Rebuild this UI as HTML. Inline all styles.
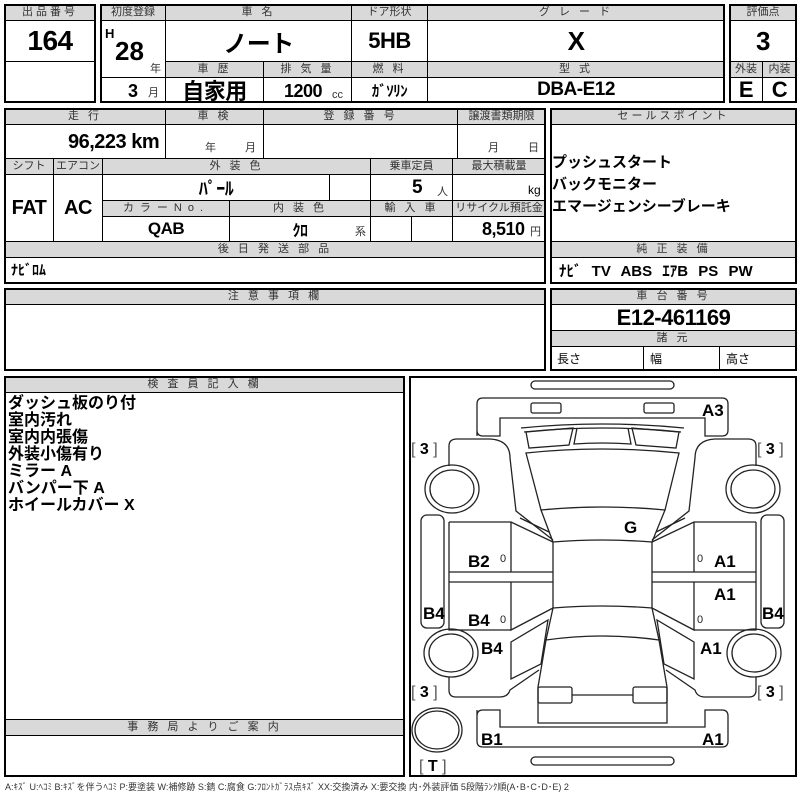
<!DOCTYPE html>
<html><head><meta charset="utf-8">
<style>
body{margin:0;background:#fff;width:800px;height:800px;position:relative;overflow:hidden;font-family:"Liberation Sans","Noto Sans CJK JP",sans-serif;color:#000}
.c{position:absolute;box-sizing:border-box;border:1px solid #000;display:flex;align-items:center;justify-content:center;white-space:nowrap}
.h{background:#d9d9d9;font-size:11px;color:#333;letter-spacing:3px;line-height:1}
.v{font-weight:bold;font-size:19px;letter-spacing:-0.5px}
.o{position:absolute;box-sizing:border-box;border:2px solid #000;pointer-events:none}
.t{position:absolute;white-space:nowrap;line-height:1}
.s{font-size:11px;font-weight:normal;color:#333}
.jp{font-weight:bold;font-size:16px;line-height:17px}
</style></head><body>
<div class="c h" style="left:4px;top:4px;width:92px;height:17px">出品番号</div>
<div class="c v" style="left:4px;top:20px;width:92px;height:42px;font-size:28px">164</div>
<div class="c" style="left:4px;top:61px;width:92px;height:42px"></div>
<div class="o" style="left:4px;top:4px;width:92px;height:99px"></div>
<div class="c h" style="left:100px;top:4px;width:66px;height:17px;letter-spacing:0">初度登録</div>
<div class="c h" style="left:165px;top:4px;width:187px;height:17px">車 名</div>
<div class="c h" style="left:351px;top:4px;width:77px;height:17px;letter-spacing:0">ドア形状</div>
<div class="c h" style="left:427px;top:4px;width:298px;height:17px">グ レ ー ド</div>
<div class="c" style="left:100px;top:20px;width:66px;height:58px"></div>
<div class="t" style="left:105px;top:27px;font-weight:bold;font-size:13px">H</div>
<div class="t" style="left:115px;top:38px;font-weight:bold;font-size:26px">28</div>
<div class="t s" style="left:150px;top:64px">年</div>
<div class="c" style="left:100px;top:77px;width:66px;height:26px"></div>
<div class="t v" style="left:128px;top:82px;font-size:18px">3</div>
<div class="t s" style="left:148px;top:88px">月</div>
<div class="c v" style="left:165px;top:20px;width:187px;height:42px;font-size:24px">ノート</div>
<div class="c v" style="left:351px;top:20px;width:77px;height:42px;font-size:22px">5HB</div>
<div class="c v" style="left:427px;top:20px;width:298px;height:42px;font-size:26px">X</div>
<div class="c h" style="left:165px;top:61px;width:99px;height:17px">車 歴</div>
<div class="c h" style="left:263px;top:61px;width:89px;height:17px">排 気 量</div>
<div class="c h" style="left:351px;top:61px;width:77px;height:17px">燃 料</div>
<div class="c h" style="left:427px;top:61px;width:298px;height:17px">型 式</div>
<div class="c v" style="left:165px;top:77px;width:99px;height:26px;font-size:22px">自家用</div>
<div class="c" style="left:263px;top:77px;width:89px;height:26px"></div>
<div class="t v" style="left:284px;top:82px;font-size:18px">1200</div>
<div class="t s" style="left:332px;top:90px">cc</div>
<div class="c v" style="left:351px;top:77px;width:77px;height:26px;font-size:15px">ｶﾞｿﾘﾝ</div>
<div class="c v" style="left:427px;top:77px;width:298px;height:26px;font-size:19px">DBA-E12</div>
<div class="o" style="left:100px;top:4px;width:625px;height:99px"></div>
<div class="c h" style="left:729px;top:4px;width:68px;height:17px;letter-spacing:0">評価点</div>
<div class="c v" style="left:729px;top:20px;width:68px;height:42px;font-size:26px">3</div>
<div class="c h" style="left:729px;top:61px;width:34px;height:17px;letter-spacing:0">外装</div>
<div class="c h" style="left:762px;top:61px;width:35px;height:17px;letter-spacing:0">内装</div>
<div class="c v" style="left:729px;top:77px;width:34px;height:26px;font-size:22px">E</div>
<div class="c v" style="left:762px;top:77px;width:35px;height:26px;font-size:22px">C</div>
<div class="o" style="left:729px;top:4px;width:68px;height:99px"></div>

<div class="c h" style="left:4px;top:108px;width:162px;height:17px">走 行</div>
<div class="c h" style="left:165px;top:108px;width:99px;height:17px">車 検</div>
<div class="c h" style="left:263px;top:108px;width:195px;height:17px">登 録 番 号</div>
<div class="c h" style="left:457px;top:108px;width:89px;height:17px;letter-spacing:0">譲渡書類期限</div>
<div class="c" style="left:4px;top:124px;width:162px;height:35px"></div>
<div class="t v" style="left:68px;top:132px;font-size:20px">96,223 km</div>
<div class="c" style="left:165px;top:124px;width:99px;height:35px"></div>
<div class="t s" style="left:205px;top:143px">年</div><div class="t s" style="left:245px;top:143px">月</div>
<div class="c" style="left:263px;top:124px;width:195px;height:35px"></div>
<div class="c" style="left:457px;top:124px;width:89px;height:35px"></div>
<div class="t s" style="left:488px;top:143px">月</div><div class="t s" style="left:528px;top:143px">日</div>
<div class="c h" style="left:4px;top:158px;width:50px;height:17px;letter-spacing:0">シフト</div>
<div class="c h" style="left:53px;top:158px;width:50px;height:17px;letter-spacing:0">エアコン</div>
<div class="c h" style="left:102px;top:158px;width:269px;height:17px">外 装 色</div>
<div class="c h" style="left:370px;top:158px;width:83px;height:17px;letter-spacing:0">乗車定員</div>
<div class="c h" style="left:452px;top:158px;width:94px;height:17px;letter-spacing:0">最大積載量</div>
<div class="c v" style="left:4px;top:174px;width:50px;height:68px;font-size:20px">FAT</div>
<div class="c v" style="left:53px;top:174px;width:50px;height:68px;font-size:20px">AC</div>
<div class="c v" style="left:102px;top:174px;width:228px;height:27px;font-size:18px">ﾊﾟｰﾙ</div>
<div class="c" style="left:329px;top:174px;width:42px;height:27px"></div>
<div class="c" style="left:370px;top:174px;width:83px;height:27px"></div>
<div class="t v" style="left:412px;top:178px;font-size:19px">5</div><div class="t s" style="left:437px;top:187px">人</div>
<div class="c" style="left:452px;top:174px;width:94px;height:27px"></div>
<div class="t" style="left:528px;top:184px;font-size:12px">kg</div>
<div class="c h" style="left:102px;top:200px;width:128px;height:17px;letter-spacing:6px">カラーNo.</div>
<div class="c h" style="left:229px;top:200px;width:142px;height:17px">内 装 色</div>
<div class="c h" style="left:370px;top:200px;width:83px;height:17px">輸 入 車</div>
<div class="c h" style="left:452px;top:200px;width:94px;height:17px;letter-spacing:0">リサイクル預託金</div>
<div class="c v" style="left:102px;top:216px;width:128px;height:26px;font-size:17px">QAB</div>
<div class="c v" style="left:229px;top:216px;width:142px;height:26px;font-size:16px">ｸﾛ</div>
<div class="t s" style="left:355px;top:227px">系</div>
<div class="c" style="left:370px;top:216px;width:42px;height:26px"></div>
<div class="c" style="left:411px;top:216px;width:42px;height:26px"></div>
<div class="c" style="left:452px;top:216px;width:94px;height:26px"></div>
<div class="t v" style="left:482px;top:220px;font-size:18px">8,510</div><div class="t s" style="left:530px;top:227px">円</div>
<div class="c h" style="left:4px;top:241px;width:542px;height:17px">後 日 発 送 部 品</div>
<div class="c" style="left:4px;top:257px;width:542px;height:26px;justify-content:flex-start;padding-left:6px;font-weight:bold;font-size:14px">ﾅﾋﾞﾛﾑ</div>
<div class="o" style="left:4px;top:108px;width:542px;height:176px"></div>

<div class="c h" style="left:550px;top:108px;width:247px;height:17px">セールスポイント</div>
<div class="c" style="left:550px;top:124px;width:247px;height:118px"></div>
<div class="t jp" style="left:552px;top:152px;line-height:22px;font-size:15px">プッシュスタート<br>バックモニター<br>エマージェンシーブレーキ</div>
<div class="c h" style="left:550px;top:241px;width:247px;height:17px">純 正 装 備</div>
<div class="c" style="left:550px;top:257px;width:247px;height:26px;justify-content:flex-start;padding-left:8px;font-weight:bold;font-size:15px;word-spacing:6px">ﾅﾋﾞ TV ABS ｴｱB PS PW</div>
<div class="o" style="left:550px;top:108px;width:247px;height:176px"></div>

<div class="c h" style="left:4px;top:288px;width:542px;height:17px">注 意 事 項 欄</div>
<div class="c" style="left:4px;top:304px;width:542px;height:67px"></div>
<div class="o" style="left:4px;top:288px;width:542px;height:83px"></div>
<div class="c h" style="left:550px;top:288px;width:247px;height:17px">車 台 番 号</div>
<div class="c v" style="left:550px;top:304px;width:247px;height:27px;font-size:22px">E12-461169</div>
<div class="c h" style="left:550px;top:330px;width:247px;height:17px">諸 元</div>
<div class="c" style="left:550px;top:346px;width:94px;height:25px;justify-content:flex-start;padding-left:6px;font-size:12px">長さ</div>
<div class="c" style="left:643px;top:346px;width:77px;height:25px;justify-content:flex-start;padding-left:6px;font-size:12px">幅</div>
<div class="c" style="left:719px;top:346px;width:78px;height:25px;justify-content:flex-start;padding-left:6px;font-size:12px">高さ</div>
<div class="o" style="left:550px;top:288px;width:247px;height:83px"></div>

<div class="c h" style="left:4px;top:376px;width:401px;height:17px">検 査 員 記 入 欄</div>
<div class="c" style="left:4px;top:392px;width:401px;height:328px"></div>
<div class="t jp" style="left:8px;top:395px">ダッシュ板のり付<br>室内汚れ<br>室内内張傷<br>外装小傷有り<br>ミラー A<br>バンパー下 A<br>ホイールカバー X</div>
<div class="c h" style="left:4px;top:719px;width:401px;height:17px">事 務 局 よ り ご 案 内</div>
<div class="o" style="left:4px;top:376px;width:401px;height:401px"></div>
<div class="t" style="left:5px;top:783px;font-size:9px;color:#333">A:ｷｽﾞ U:ﾍｺﾐ B:ｷｽﾞを伴うﾍｺﾐ P:要塗装 W:補修跡 S:錆 C:腐食 G:ﾌﾛﾝﾄｶﾞﾗｽ点ｷｽﾞ XX:交換済み X:要交換 内･外装評価 5段階ﾗﾝｸ順(A･B･C･D･E) 2</div>

<div class="o" style="left:409px;top:376px;width:388px;height:401px"></div>
<svg style="position:absolute;left:0;top:0" width="800" height="800" viewBox="0 0 800 800">
<g fill="none" stroke="#222" stroke-width="1.3">
<rect x="531" y="381" width="143" height="8" rx="4"/>
<path d="M477,436 L477,404 Q477,398 483,398 L722,398 Q728,398 728,404 L728,430 Q728,436 722,436 L705,436 L705,418 L500,418 L500,436 L483,436 Q477,436 477,430 Z"/>
<rect x="531" y="403" width="30" height="10" rx="2"/>
<rect x="644" y="403" width="30" height="10" rx="2"/>
<path d="M521,428 Q602,420 684,428"/>
<path d="M524,432 Q602,424 681,432"/>
<path d="M577,428 L574,444 Q602,442 631,444 L628,428"/>
<path d="M526,453 Q602,445 679,453 L665,510 Q602,504 541,510 Z"/>
<path d="M541,510 L553,542 Q602,538 652,542 L665,510"/>
<path d="M553,542 L553,608 Q602,604 652,608 L652,542"/>
<path d="M553,608 L546,640 Q602,632 659,640 L652,608"/>
<path d="M546,640 L538,687 L538,723 L667,723 L667,687 L659,640"/>
<path d="M572,695 L633,695"/>
<rect x="531" y="757" width="143" height="8" rx="4"/>
<path d="M477,710 L477,741 Q477,747 483,747 L722,747 Q728,747 728,741 L728,716 Q728,710 722,710 L705,710 L705,727 L500,727 L500,710 L483,710 Q477,710 477,716 Z"/>
<ellipse cx="437" cy="730" rx="25" ry="22"/>
<ellipse cx="437" cy="730" rx="22" ry="19"/>
<g id="half">
<path d="M526,432 L573,428 L569,445 L529,448 Z"/>
<path d="M449,466 L449,446 Q449,439 457,439 L490,439 Q510,440 510,458 L516,511 L553,540"/>
<path d="M520,518 L549,532"/>
<ellipse cx="452" cy="489" rx="27" ry="24"/>
<ellipse cx="452" cy="489" rx="22" ry="19"/>
<ellipse cx="451" cy="653" rx="27" ry="24"/>
<ellipse cx="451" cy="653" rx="22" ry="19"/>
<rect x="421" y="515" width="23" height="113" rx="6"/>
<path d="M449,522 L511,522 L553,542 M511,522 L511,572 M449,522 L449,630 L511,630 M449,572 L553,572 M449,582 L553,582 M511,582 L511,630 L553,608"/>
<path d="M511,642 L548,620 L541,664 L511,679 Z"/>
<path d="M449,677 L449,690 Q449,697 456,697 L500,697 Q508,697 510,690 L539,670"/>
<rect x="538" y="687" width="34" height="16" rx="2"/>
</g>
<use href="#half" transform="translate(1205,0) scale(-1,1)"/>
</g>
<g font-family="Liberation Sans, sans-serif" font-weight="bold" font-size="17" fill="#000">
<text x="702" y="416">A3</text>
<text x="624" y="533">G</text>
<text x="468" y="567">B2</text>
<text x="714" y="567">A1</text>
<text x="714" y="600">A1</text>
<text x="423" y="619">B4</text>
<text x="468" y="626">B4</text>
<text x="762" y="619">B4</text>
<text x="481" y="654">B4</text>
<text x="700" y="654">A1</text>
<text x="481" y="745">B1</text>
<text x="702" y="745">A1</text>
</g>
<g font-family="Liberation Sans, sans-serif" font-size="11" fill="#222">
<text x="500" y="562">0</text><text x="697" y="562">0</text>
<text x="500" y="623">0</text><text x="697" y="623">0</text>
</g>
<g font-family="Liberation Sans, sans-serif" font-size="16" fill="#000">
<text x="411" y="454"><tspan fill="#555">[</tspan> <tspan font-weight="bold">3</tspan> <tspan fill="#555">]</tspan></text>
<text x="757" y="454"><tspan fill="#555">[</tspan> <tspan font-weight="bold">3</tspan> <tspan fill="#555">]</tspan></text>
<text x="411" y="697"><tspan fill="#555">[</tspan> <tspan font-weight="bold">3</tspan> <tspan fill="#555">]</tspan></text>
<text x="757" y="697"><tspan fill="#555">[</tspan> <tspan font-weight="bold">3</tspan> <tspan fill="#555">]</tspan></text>
<text x="419" y="771"><tspan fill="#555">[</tspan> <tspan font-weight="bold">T</tspan> <tspan fill="#555">]</tspan></text>
</g>
</svg>
</body></html>
